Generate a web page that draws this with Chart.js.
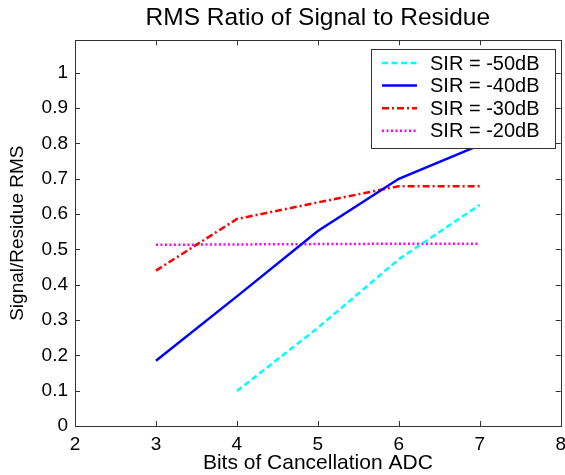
<!DOCTYPE html>
<html>
<head>
<meta charset="utf-8">
<script src="https://cdn.jsdelivr.net/npm/chart.js@4/dist/chart.umd.min.js"></script>
<style>
  html, body { margin: 0; padding: 0; background: #fff; overflow: hidden; }
  canvas { display: block; }
</style>
</head>
<body>
<canvas id="c" width="565" height="475"></canvas>
<script>
// ---- data ----
const titleText = "RMS Ratio of Signal to Residue";
const xTitle = "Bits of Cancellation ADC";
const yTitle = "Signal/Residue RMS";
const seriesNames = ["SIR = -50dB", "SIR = -40dB", "SIR = -30dB", "SIR = -20dB"];

const bits50 = [4, 5, 6, 7];
const sir50 = [0.099, 0.278, 0.472, 0.626];

const bits40 = [3, 4, 5, 6, 7];
const sir40 = [0.185, 0.367, 0.552, 0.700, 0.795];

const bits30 = [3, 4, 5, 6, 7];
const sir30 = [0.440, 0.586, 0.633, 0.679, 0.679];

const bits20 = [3, 4, 5, 6, 7];
const sir20 = [0.513, 0.514, 0.515, 0.516, 0.516];

const xTicks = [2, 3, 4, 5, 6, 7, 8];
const yTicks = [0, 0.1, 0.2, 0.3, 0.4, 0.5, 0.6, 0.7, 0.8, 0.9, 1];

const FONT = "Arial, 'Liberation Sans', Helvetica, sans-serif";

function pts(xs, ys) { return xs.map((x, i) => ({ x: x, y: ys[i] })); }

const datasets = [
  { label: seriesNames[0], data: pts(bits50, sir50), borderColor: '#00FFFF', borderDash: [6, 3.5], borderWidth: 2.5 },
  { label: seriesNames[1], data: pts(bits40, sir40), borderColor: '#0000FF', borderDash: [], borderWidth: 2.5 },
  { label: seriesNames[2], data: pts(bits30, sir30), borderColor: '#FF0000', borderDash: [7, 3, 2, 3], borderWidth: 2.5 },
  { label: seriesNames[3], data: pts(bits20, sir20), borderColor: '#FF00FF', borderDash: [2, 2.5], borderWidth: 2.5 }
].map(d => Object.assign(d, { pointRadius: 0, fill: false, tension: 0, backgroundColor: d.borderColor }));

const AXIS_COLOR = '#333333';

const boxPlugin = {
  id: 'matlabBox',
  afterDatasetsDraw(chart) {
    const { ctx, chartArea: a, scales } = chart;
    ctx.save();
    ctx.strokeStyle = AXIS_COLOR;
    ctx.lineWidth = 1;
    ctx.setLineDash([]);
    ctx.strokeRect(Math.round(a.left) + 0.5, Math.round(a.top) + 0.5,
                   Math.round(a.right) - Math.round(a.left), Math.round(a.bottom) - Math.round(a.top));
    const L = 5;
    ctx.beginPath();
    xTicks.forEach(v => {
      const px = Math.round(scales.x.getPixelForValue(v)) + 0.5;
      ctx.moveTo(px, a.bottom); ctx.lineTo(px, a.bottom - L);
      ctx.moveTo(px, a.top); ctx.lineTo(px, a.top + L);
    });
    yTicks.forEach(v => {
      const py = Math.round(scales.y.getPixelForValue(v)) + 0.5;
      ctx.moveTo(a.left, py); ctx.lineTo(a.left + L, py);
      ctx.moveTo(a.right, py); ctx.lineTo(a.right - L, py);
    });
    ctx.stroke();
    ctx.restore();
  },
  afterDraw(chart) {
    const { ctx, chartArea: a } = chart;
    ctx.save();
    // title centred over the axes
    ctx.fillStyle = '#000';
    ctx.font = "24.5px " + FONT;
    ctx.textAlign = 'center';
    ctx.textBaseline = 'middle';
    ctx.fillText(titleText, (a.left + a.right) / 2, 18.5);

    // legend box inside the axes (top-right)
    const bx = 371, by = 49, bw = 184, bh = 99;
    ctx.fillStyle = '#fff';
    ctx.fillRect(bx, by, bw, bh);
    ctx.strokeStyle = AXIS_COLOR;
    ctx.lineWidth = 1;
    ctx.setLineDash([]);
    ctx.strokeRect(bx + 0.5, by + 0.5, bw, bh);
    ctx.font = "20px " + FONT;
    ctx.textBaseline = 'middle';
    ctx.textAlign = 'left';
    chart.data.datasets.forEach((d, i) => {
      const y = 63 + i * 22.6;
      ctx.strokeStyle = d.borderColor;
      ctx.lineWidth = d.borderWidth;
      ctx.setLineDash(d.borderDash);
      ctx.beginPath();
      ctx.moveTo(382, y); ctx.lineTo(417, y);
      ctx.stroke();
      ctx.fillStyle = '#000';
      ctx.fillText(d.label, 430, y + 1);
    });
    ctx.restore();
  }
};

new Chart(document.getElementById('c'), {
  type: 'line',
  data: { datasets: datasets },
  plugins: [boxPlugin],
  options: {
    responsive: false,
    animation: false,
    devicePixelRatio: 1,
    layout: { padding: { left: 0, right: 4.3, top: 40.3, bottom: 0 } },
    plugins: {
      legend: { display: false },
      tooltip: { enabled: false },
      title: { display: false }
    },
    scales: {
      x: {
        type: 'linear',
        min: 2, max: 8,
        afterBuildTicks: s => { s.ticks = xTicks.map(v => ({ value: v })); },
        ticks: { color: '#000', font: { family: FONT, size: 19 }, padding: 7, maxRotation: 0, autoSkip: false,
                 callback: v => String(v) },
        grid: { display: false, drawTicks: false },
        border: { display: false },
        title: { display: true, text: xTitle, color: '#000',
                 font: { family: FONT, size: 21, lineHeight: 1 }, padding: { top: 0, bottom: 1.5 } },
        afterFit: s => { s.height = 49; s.paddingLeft = 0; s.paddingRight = 0; }
      },
      y: {
        type: 'linear',
        min: 0, max: 1.092,
        afterBuildTicks: s => { s.ticks = yTicks.map(v => ({ value: v })); },
        ticks: { color: '#000', font: { family: FONT, size: 19 }, padding: 7, autoSkip: false,
                 callback: v => String(Math.round(v * 10) / 10) },
        grid: { display: false, drawTicks: false },
        border: { display: false },
        title: { display: true, text: yTitle, color: '#000',
                 font: { family: FONT, size: 19, lineHeight: 1 }, padding: { top: 8, bottom: 0 } },
        afterFit: s => { s.width = 75; s.paddingTop = 0; s.paddingBottom = 0; }
      }
    }
  }
});
</script>
</body>
</html>
